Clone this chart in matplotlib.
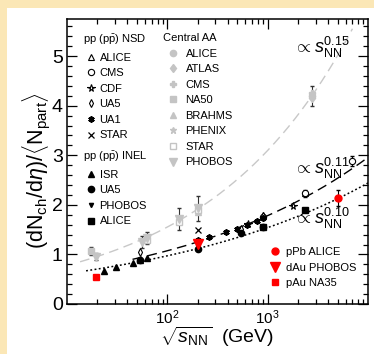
import numpy as np
import matplotlib
matplotlib.use("Agg")
import matplotlib.pyplot as plt
from matplotlib.patches import Rectangle
from matplotlib.ticker import LogLocator, FixedLocator, MultipleLocator, NullFormatter

plt.rcParams['font.family'] = ['Liberation Sans', 'DejaVu Sans']
plt.rcParams['mathtext.fontset'] = 'custom'
plt.rcParams['mathtext.rm'] = 'Liberation Sans'
plt.rcParams['mathtext.it'] = 'Liberation Sans:italic'
plt.rcParams['mathtext.bf'] = 'Liberation Sans:bold'

# pp (ppbar) NSD  (sqrt(s) in GeV, dNch/deta / <Npart>)
alice_nsd_e = [900, 2360]
alice_nsd_y = [1.79, 2.24]
cms_nsd_e = [900, 2360, 7000]
cms_nsd_y = [1.75, 2.23, 2.88]
cms_nsd_err = [0.05, 0.07, 0.1]
cdf_e = [630, 1800]
cdf_y = [1.62, 1.97]
ua5_nsd_e = [53, 200, 546, 900]
ua5_nsd_y = [1.04, 1.25, 1.52, 1.77]
ua1_e = [200, 260, 380, 500, 620, 790, 900]
ua1_y = [1.30, 1.36, 1.45, 1.52, 1.59, 1.68, 1.73]
star_pp_e = [200]
star_pp_y = [1.49]

# pp (ppbar) INEL
isr_e = [23.6, 30.8, 45.2, 53, 62.7]
isr_y = [0.67, 0.75, 0.83, 0.89, 0.93]
ua5_inel_e = [53, 200, 546, 900]
ua5_inel_y = [0.89, 1.10, 1.43, 1.55]
phobos_pp_e = [200]
phobos_pp_y = [1.16]
alice_inel_e = [900, 2360]
alice_inel_y = [1.56, 1.89]

# central AA
alice_aa_e, alice_aa_y, alice_aa_err = [2760], [4.20], [0.20]
atlas_aa_e, atlas_aa_y = [2760], [4.15]
cms_aa_e, cms_aa_y = [2760], [4.25]
na50_e, na50_y, na50_err = [17.3], [1.07], [0.09]
brahms_e, brahms_y = [200], [1.85]
phenix_e, phenix_y = [130, 200], [1.70, 1.95]
star_aa_e, star_aa_y = [62.4, 130, 200], [1.29, 1.66, 1.90]
phobos_aa_e = [19.6, 56, 62.4, 130, 200]
phobos_aa_y = [0.95, 1.25, 1.33, 1.72, 1.93]
phobos_aa_err = [0.07, 0.13, 0.12, 0.22, 0.25]

# p-A / d-A
ppb_e, ppb_y, ppb_err = [5020], [2.14], [0.17]
dau_e, dau_y = [200], [1.21]
pau_e, pau_y = [19.4], [0.54]

# power-law fits  y = norm * s^p  (s = sqrt(s)^2)
fit_pow = [0.15, 0.11, 0.10]
fit_norm = [0.39, 0.39, 0.387]
fit_lo = [13.5, 45, 15.5]
fit_hi = [7000, 10000, 10000]
fit_label_y = [5.18, 2.74, 1.73]

gray = '#c4c4c4'

fig = plt.figure(figsize=(3.74, 3.54), dpi=100)
fig.patch.set_facecolor('#fbe7b6')
fig.patches.append(Rectangle((7 / 374, 0), 1, 1 - 8 / 354, transform=fig.transFigure,
                             facecolor='white', edgecolor='none', zorder=-10))
ax = fig.add_axes([67 / 374, 50 / 354, 301 / 374, 285 / 354])
ax.set_facecolor('white')

# fits
styles = [dict(color='#c8c8c8', ls=(0, (7, 4)), lw=1.0),
          dict(color='black', ls=(0, (7, 4)), lw=1.0),
          dict(color='black', ls=(0, (1.2, 1.6)), lw=1.1)]
for p, a, lo, hi, st, ly in zip(fit_pow, fit_norm, fit_lo, fit_hi, styles, fit_label_y):
    e = np.logspace(np.log10(lo), np.log10(hi), 200)
    ax.plot(e, a * (e ** 2) ** p, zorder=1, **st)
    ax.text(1850, ly, r'$\propto s_{\rm NN}^{%.2f}$' % p, fontsize=13, va='center', ha='left')

ms = 4.5
# AA error bars and points
for e, y, err in [(alice_aa_e, alice_aa_y, alice_aa_err), (na50_e, na50_y, na50_err),
                  (phobos_aa_e, phobos_aa_y, phobos_aa_err)]:
    ax.errorbar(e, y, yerr=err, fmt='none', ecolor='#333333', elinewidth=0.8, capsize=1.5, zorder=2)
h_aa = [
    ax.plot(alice_aa_e, alice_aa_y, 'o', color=gray, ms=ms, ls='none', zorder=3)[0],
    ax.plot(atlas_aa_e, atlas_aa_y, 'd', color=gray, ms=ms, ls='none', zorder=3)[0],
    ax.plot(cms_aa_e, cms_aa_y, 'P', color=gray, ms=ms, ls='none', zorder=3)[0],
    ax.plot(na50_e, na50_y, 's', color=gray, ms=ms, ls='none', zorder=3)[0],
    ax.plot(brahms_e, brahms_y, '^', color=gray, ms=ms, ls='none', zorder=3)[0],
    ax.plot(phenix_e, phenix_y, '*', color=gray, ms=ms, ls='none', zorder=3)[0],
    ax.plot(star_aa_e, star_aa_y, 's', mfc='white', mec=gray, ms=ms, ls='none', zorder=3)[0],
    ax.plot(phobos_aa_e, phobos_aa_y, 'v', color=gray, ms=ms + 1, ls='none', zorder=3)[0],
]
lab_aa = ['ALICE', 'ATLAS', 'CMS', 'NA50', 'BRAHMS', 'PHENIX', 'STAR', 'PHOBOS']

# pp points
ax.errorbar(cms_nsd_e, cms_nsd_y, yerr=cms_nsd_err, fmt='none', ecolor='k', elinewidth=0.8,
            capsize=1.5, zorder=4)
h_nsd = [
    ax.plot(alice_nsd_e, alice_nsd_y, '^', mfc='white', mec='k', ms=ms, mew=0.8, ls='none', zorder=5)[0],
    ax.plot(cms_nsd_e, cms_nsd_y, 'o', mfc='white', mec='k', ms=ms, mew=0.8, ls='none', zorder=5)[0],
    ax.plot(cdf_e, cdf_y, '*', mfc='white', mec='k', ms=ms + 1, mew=0.8, ls='none', zorder=5)[0],
    ax.plot(ua5_nsd_e, ua5_nsd_y, 'd', mfc='white', mec='k', ms=ms - 0.5, mew=0.8, ls='none', zorder=5)[0],
    ax.plot(ua1_e, ua1_y, marker=(6, 2, 0), color='k', ms=ms, mew=1.3, ls='none', zorder=5)[0],
    ax.plot(star_pp_e, star_pp_y, 'x', color='k', ms=ms - 0.5, mew=0.9, ls='none', zorder=5)[0],
]
lab_nsd = ['ALICE', 'CMS', 'CDF', 'UA5', 'UA1', 'STAR']
h_inel = [
    ax.plot(isr_e, isr_y, '^', color='k', ms=ms, ls='none', zorder=5)[0],
    ax.plot(ua5_inel_e, ua5_inel_y, 'o', color='k', ms=ms, ls='none', zorder=5)[0],
    ax.plot(phobos_pp_e, phobos_pp_y, 'v', color='k', ms=ms - 1.5, ls='none', zorder=5)[0],
    ax.plot(alice_inel_e, alice_inel_y, 's', color='k', ms=ms, ls='none', zorder=5)[0],
]
lab_inel = ['ISR', 'UA5', 'PHOBOS', 'ALICE']

# pA / dA
ax.errorbar(ppb_e, ppb_y, yerr=ppb_err, fmt='none', ecolor='k', elinewidth=0.8, capsize=1.5, zorder=6)
h_pa = [
    ax.plot(ppb_e, ppb_y, 'o', color='red', ms=ms + 0.5, ls='none', zorder=7)[0],
    ax.plot(dau_e, dau_y, 'v', color='red', ms=ms + 2, ls='none', zorder=7)[0],
    ax.plot(pau_e, pau_y, 's', color='red', ms=ms + 0.5, ls='none', zorder=7)[0],
]
lab_pa = ['pPb ALICE', 'dAu PHOBOS', 'pAu NA35']

legkw = dict(frameon=False, fontsize=8, title_fontsize=8, loc='upper left', borderpad=0,
             borderaxespad=0, labelspacing=0.5, alignment='left')
leg1 = ax.legend(h_nsd, lab_nsd, title=r'pp (p$\bar{\rm p}$) NSD', bbox_to_anchor=(0.053, 0.951),
                 handlelength=1.4, handletextpad=0.1, **legkw)
ax.add_artist(leg1)
leg2 = ax.legend(h_inel, lab_inel, title=r'pp (p$\bar{\rm p}$) INEL', bbox_to_anchor=(0.053, 0.54),
                 handlelength=1.4, handletextpad=0.1, **legkw)
ax.add_artist(leg2)
leg3 = ax.legend(h_aa, lab_aa, title='Central AA', bbox_to_anchor=(0.32, 0.951),
                 handlelength=1.8, handletextpad=0.2, **legkw)
ax.add_artist(leg3)
ax.legend(h_pa, lab_pa, bbox_to_anchor=(0.673, 0.2), handlelength=1.0, handletextpad=0.5, **legkw)

ax.set_xscale('log')
ax.set_xlim(10, 10000)
ax.set_ylim(0, 5.75)
ax.xaxis.set_major_locator(FixedLocator([100, 1000]))
ax.xaxis.set_minor_locator(LogLocator(base=10, subs=np.arange(2, 10)))
ax.xaxis.set_minor_formatter(NullFormatter())
ax.yaxis.set_major_locator(MultipleLocator(1))
ax.yaxis.set_minor_locator(MultipleLocator(0.2))
ax.tick_params(which='both', direction='in', top=True, right=True, width=0.9)
ax.tick_params(which='major', length=7)
ax.tick_params(which='minor', length=3.5)
ax.tick_params(axis='y', labelsize=14, pad=3)
ax.tick_params(axis='x', labelsize=11, pad=3)
for s in ax.spines.values():
    s.set_linewidth(1.1)

fig.text(36 / 374, 1 - 171 / 354, r'(dN$_{\rm ch}$/d$\eta$)/$\langle$N$_{\rm part}\rangle$',
         rotation=90, ha='center', va='center', fontsize=15.5)
fig.text(217 / 374, 1 - 337 / 354, r'$\sqrt{s_{\rm NN}}$  (GeV)', ha='center', va='center', fontsize=14)

fig.savefig('out.png', dpi=100, facecolor=fig.get_facecolor())
